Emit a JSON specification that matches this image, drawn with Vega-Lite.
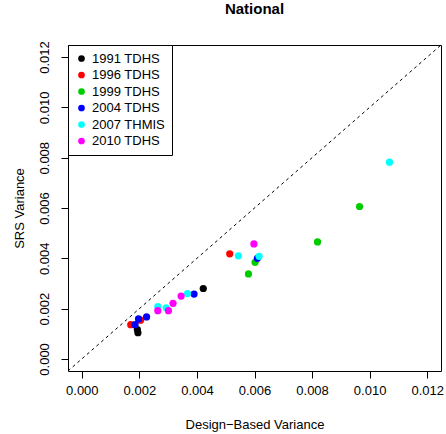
{
  "$schema": "https://vega.github.io/schema/vega-lite/v6.json",
  "width": 373,
  "height": 326,
  "autosize": {"type": "none"},
  "padding": {"left": 68, "top": 45, "right": 5, "bottom": 63},
  "background": "white",
  "title": {
    "text": "National",
    "font": "Liberation Sans",
    "fontSize": 15,
    "fontWeight": "bold",
    "color": "black",
    "anchor": "middle",
    "offset": 24
  },
  "datasets": {
    "points": [
      {"survey": "1991 TDHS", "design": 0.00422, "srs": 0.00280},
      {"survey": "1991 TDHS", "design": 0.00193, "srs": 0.00117},
      {"survey": "1991 TDHS", "design": 0.00195, "srs": 0.00104},
      {"survey": "1996 TDHS", "design": 0.00514, "srs": 0.00418},
      {"survey": "1996 TDHS", "design": 0.00204, "srs": 0.00154},
      {"survey": "1996 TDHS", "design": 0.00170, "srs": 0.00136},
      {"survey": "1999 TDHS", "design": 0.00602, "srs": 0.00384},
      {"survey": "1999 TDHS", "design": 0.00579, "srs": 0.00338},
      {"survey": "1999 TDHS", "design": 0.00819, "srs": 0.00465},
      {"survey": "1999 TDHS", "design": 0.00965, "srs": 0.00606},
      {"survey": "2004 TDHS", "design": 0.00610, "srs": 0.00400},
      {"survey": "2004 TDHS", "design": 0.00390, "srs": 0.00258},
      {"survey": "2004 TDHS", "design": 0.00225, "srs": 0.00167},
      {"survey": "2004 TDHS", "design": 0.00197, "srs": 0.00159},
      {"survey": "2004 TDHS", "design": 0.00185, "srs": 0.00136},
      {"survey": "2007 THMIS", "design": 0.00544, "srs": 0.00410},
      {"survey": "2007 THMIS", "design": 0.00616, "srs": 0.00408},
      {"survey": "2007 THMIS", "design": 0.00367, "srs": 0.00260},
      {"survey": "2007 THMIS", "design": 0.00293, "srs": 0.00203},
      {"survey": "2007 THMIS", "design": 0.00264, "srs": 0.00208},
      {"survey": "2007 THMIS", "design": 0.01069, "srs": 0.00782},
      {"survey": "2010 TDHS", "design": 0.00598, "srs": 0.00457},
      {"survey": "2010 TDHS", "design": 0.00345, "srs": 0.00250},
      {"survey": "2010 TDHS", "design": 0.00317, "srs": 0.00221},
      {"survey": "2010 TDHS", "design": 0.00301, "srs": 0.00192},
      {"survey": "2010 TDHS", "design": 0.00264, "srs": 0.00192}
    ],
    "identity": [
      {"design": -0.00048, "srs": -0.00048},
      {"design": 0.01248, "srs": 0.01248}
    ]
  },
  "layer": [
    {
      "data": {"name": "identity"},
      "mark": {"type": "line", "color": "black", "strokeWidth": 1, "strokeDash": [3, 3.3]},
      "encoding": {
        "x": {"field": "design", "type": "quantitative"},
        "y": {"field": "srs", "type": "quantitative"}
      }
    },
    {
      "data": {"name": "points"},
      "mark": {"type": "circle", "size": 52, "opacity": 1},
      "encoding": {
        "x": {
          "field": "design",
          "type": "quantitative",
          "title": "Design\u2212Based Variance",
          "scale": {"domain": [-0.00048, 0.01248], "nice": false, "zero": false},
          "axis": {"values": [0, 0.002, 0.004, 0.006, 0.008, 0.01, 0.012], "format": ".3f", "titlePadding": 21}
        },
        "y": {
          "field": "srs",
          "type": "quantitative",
          "title": "SRS Variance",
          "scale": {"domain": [-0.00048, 0.01248], "nice": false, "zero": false},
          "axis": {
            "values": [0, 0.002, 0.004, 0.006, 0.008, 0.01, 0.012],
            "format": ".3f",
            "labelAngle": 270,
            "labelAlign": "center",
            "labelBaseline": "alphabetic",
            "labelPadding": 13,
            "titlePadding": 12
          }
        },
        "color": {
          "field": "survey",
          "type": "nominal",
          "scale": {
            "domain": ["1991 TDHS", "1996 TDHS", "1999 TDHS", "2004 TDHS", "2007 THMIS", "2010 TDHS"],
            "range": ["#000000", "#FF0000", "#00CD00", "#0000FF", "#00FFFF", "#FF00FF"]
          },
          "legend": {"title": null}
        }
      }
    }
  ],
  "config": {
    "view": {"stroke": "black", "strokeWidth": 1},
    "font": "Liberation Sans",
    "axis": {
      "grid": false,
      "domain": false,
      "ticks": true,
      "tickSize": 7,
      "tickColor": "black",
      "tickWidth": 1,
      "labelFont": "Liberation Sans",
      "labelFontSize": 13,
      "labelColor": "black",
      "labelPadding": 6,
      "titleFont": "Liberation Sans",
      "titleFontSize": 13,
      "titleFontWeight": "normal",
      "titleColor": "black",
      "titlePadding": 19
    },
    "legend": {
      "orient": "top-left",
      "offset": 0,
      "padding": 7,
      "strokeColor": "black",
      "fillColor": "white",
      "symbolType": "circle",
      "symbolSize": 45,
      "symbolOpacity": 1,
      "symbolStrokeWidth": 0,
      "labelFont": "Liberation Sans",
      "labelFontSize": 13,
      "labelColor": "black",
      "labelOffset": 4,
      "rowPadding": 2.5
    }
  }
}
